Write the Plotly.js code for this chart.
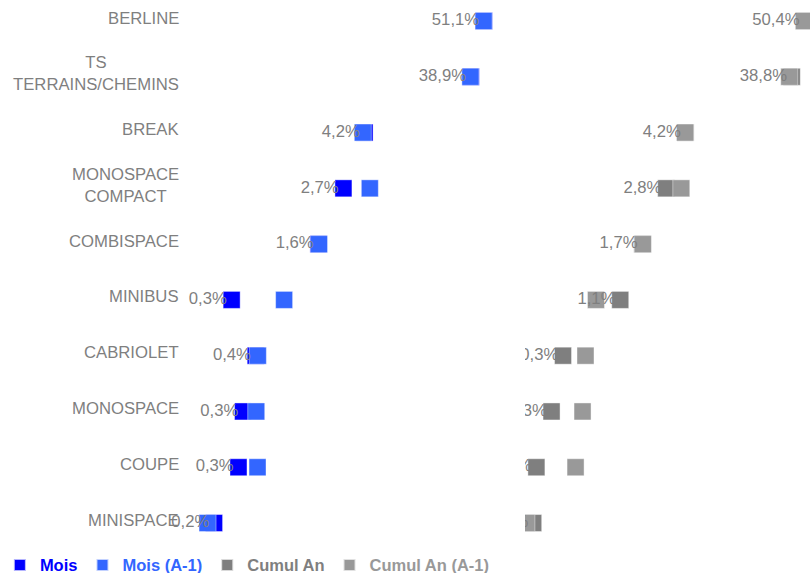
<!DOCTYPE html>
<html>
<head>
<meta charset="utf-8">
<script src="https://cdn.plot.ly/plotly-3.0.1.min.js"></script>
<style>html,body{margin:0;padding:0;background:#fff;}#chart{width:810px;height:573px;}</style>
</head>
<body>
<div id="chart"></div>
<script>
const categories = ['BERLINE','TS<br>TERRAINS/CHEMINS','BREAK','MONOSPACE<br>COMPACT','COMBISPACE','MINIBUS','CABRIOLET','MONOSPACE','COUPE','MINISPACE'];
const mois     = [51.1, 38.9, 4.2, 2.7, 1.6, 0.26, 0.43, 0.33, 0.30, 0.18];
const moisA1   = [50.8, 38.5, 4.05, 4.69, 1.62, 0.78, 0.45, 0.435, 0.447, 0.157];
const cumul    = [50.4, 38.8, 4.2, 2.8, 1.7, 1.07, 0.323, 0.254, 0.185, 0.173];
const cumulA1  = [50.0, 36.8, 4.15, 3.84, 1.72, 0.644, 0.517, 0.486, 0.42, 0.150];
const seriesNames = ['Mois', 'Mois (A-1)', 'Cumul An', 'Cumul An (A-1)'];
const seriesColors = ['#0000ff', '#3366ff', '#7f7f7f', '#999999'];

const FONT = 'Liberation Sans, Arial, sans-serif';
const GREY = '#7f7f7f';

function markerTrace(xs, i, xa, clip) {
  return {
    type: 'scatter', mode: 'markers', x: xs, y: categories,
    xaxis: xa, yaxis: 'y', cliponaxis: clip,
    name: '<b><span style="color:' + seriesColors[i] + '">' + seriesNames[i] + '</span></b>',
    marker: {symbol: 'square', size: 17, color: seriesColors[i], line: {width: 0.6, color: 'rgba(255,255,255,0.7)'}},
    hoverinfo: 'x+y'
  };
}
function textTrace(xs, xa, clip) {
  return {
    type: 'scatter', mode: 'markers+text', x: xs, y: categories,
    xaxis: xa, yaxis: 'y', cliponaxis: clip, showlegend: false,
    marker: {size: 6, color: 'rgba(0,0,0,0)'},
    texttemplate: '%{x:.1f}%', textposition: 'middle left',
    textfont: {family: FONT, size: 16.7, color: GREY},
    hoverinfo: 'skip'
  };
}

const data = [
  markerTrace(mois, 0, 'x', false),
  markerTrace(moisA1, 1, 'x', false),
  textTrace(mois, 'x', false),
  markerTrace(cumul, 2, 'x2', true),
  markerTrace(cumulA1, 3, 'x2', true),
  textTrace(cumul, 'x2', true)
];

const annotations = categories.map(c => ({
  xref: 'paper', yref: 'y', x: 0, y: c, xanchor: 'right', yanchor: 'middle',
  xshift: -1, yshift: 3, align: 'center', showarrow: false, text: c,
  font: {family: FONT, size: 16.7, color: GREY}
}));

const axisCommon = {type: 'log', showgrid: false, zeroline: false, showline: false, showticklabels: false, ticks: ''};

const layout = {
  width: 810, height: 573,
  margin: {l: 182, r: 0, t: 0, b: 28, autoexpand: false},
  paper_bgcolor: '#fff', plot_bgcolor: '#fff',
  separators: ', ',
  font: {family: FONT, size: 16, color: GREY},
  showlegend: true,
  legend: {
    orientation: 'h', x: -0.29, xanchor: 'left', y: -0.037, yanchor: 'middle',
    font: {family: FONT, size: 16.5, color: GREY}, itemsizing: 'constant',
    bgcolor: 'rgba(0,0,0,0)', traceorder: 'normal'
  },
  xaxis: Object.assign({domain: [0, 0.5143], range: [-1.03636, 1.9]}, axisCommon),
  xaxis2: Object.assign({domain: [0.5462, 1], range: [-0.83636, 1.75455], anchor: 'y'}, axisCommon),
  yaxis: {
    type: 'category', categoryorder: 'array', categoryarray: categories,
    range: [9.394, -0.3765], showgrid: false, zeroline: false, showline: false,
    showticklabels: false, ticks: ''
  },
  annotations: annotations
};

Plotly.newPlot('chart', data, layout, {displayModeBar: false, staticPlot: true});
</script>
</body>
</html>
